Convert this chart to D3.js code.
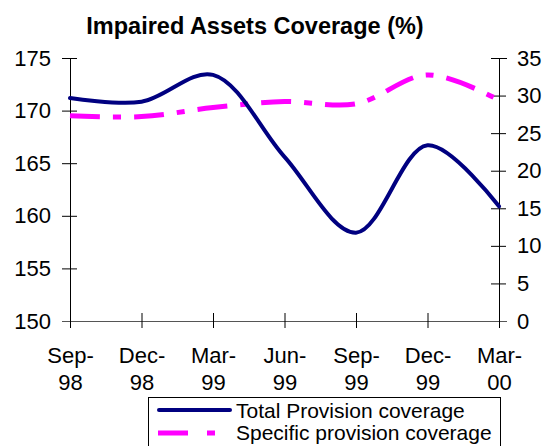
<!DOCTYPE html>
<html><head><meta charset="utf-8">
<script src="https://cdn.jsdelivr.net/npm/d3@7"></script>
<style>body{margin:0;background:#fff;}svg{display:block;font-family:"Liberation Sans",Arial,sans-serif;}</style>
</head><body>
<svg id="c" width="544" height="446"></svg>
<script>
const categories = ["Sep-98","Dec-98","Mar-99","Jun-99","Sep-99","Dec-99","Mar-00"];
const totalProvision = [171.2, 170.85, 173.4, 165.6, 158.4, 166.7, 160.9];
const specificProvision = [27.3, 27.2, 28.4, 29.2, 28.9, 32.75, 29.4];
const leftTicks = [150,155,160,165,170,175];
const rightTicks = [0,5,10,15,20,25,30,35];
const seriesNames = ["Total Provision coverage","Specific provision coverage"];
const title = "Impaired Assets Coverage (%)";

const svg = d3.select("#c");
const L = 70, R = 499, T = 58, B = 321;
const x = d3.scalePoint().domain(categories).range([L, R]);
const yL = d3.scaleLinear().domain([150,175]).range([B, T]);
const yR = d3.scaleLinear().domain([0,35]).range([B, T]);

svg.append("text").attr("x",255).attr("y",34).attr("text-anchor","middle")
  .attr("font-size",23.5).attr("font-weight","bold").text(title);

// left axis
const gl = svg.append("g").attr("transform",`translate(${L},0)`)
  .call(d3.axisLeft(yL).tickValues(leftTicks).tickSize(8).tickFormat(d3.format("d")));
gl.selectAll(".tick line").attr("x2",-8).attr("x1",7);
// right axis
const gr = svg.append("g").attr("transform",`translate(${R},0)`)
  .call(d3.axisRight(yR).tickValues(rightTicks).tickSize(8).tickFormat(d3.format("d")));
gr.selectAll(".tick line").attr("x1",-8).attr("x2",7);
// x axis
const gx = svg.append("g").attr("transform",`translate(0,${B})`)
  .call(d3.axisBottom(x).tickSize(7));
gx.selectAll(".tick line").attr("y1",-8).attr("y2",7);
gx.select(".domain").attr("d",`M${L-8},0.5H${R+8}`);
[gl,gr,gx].forEach(g=>{
  g.selectAll("text").attr("font-size",22).attr("fill","#000").attr("font-family","Liberation Sans, Arial, sans-serif");
  g.selectAll("line,.domain").attr("stroke","#000");
});
gx.select(".domain").attr("stroke","#555");
gl.selectAll(".tick text").attr("x",-19);
gr.selectAll(".tick text").attr("x",18);
gx.selectAll(".tick text").text(null).each(function(d){
  const parts = d.split("-");
  const t = d3.select(this).attr("y",null).attr("dy",null);
  t.append("tspan").attr("x",0).attr("y",42).text(parts[0]+"-");
  t.append("tspan").attr("x",0).attr("y",69).text(parts[1]);
});

const curve = d3.curveCatmullRom.alpha(0.5);
const lineL = d3.line().x((d,i)=>x(categories[i])).y(d=>yL(d)).curve(curve);
const lineR = d3.line().x((d,i)=>x(categories[i])).y(d=>yR(d)).curve(curve);

svg.append("path").attr("d",lineR(specificProvision)).attr("fill","none")
  .attr("stroke","#ff00ff").attr("stroke-width",5).attr("stroke-dasharray","30,13,8,13");
svg.append("path").attr("d",lineL(totalProvision)).attr("fill","none")
  .attr("stroke","#000080").attr("stroke-width",4).attr("stroke-linecap","round");

// legend
const lg = svg.append("g");
lg.append("rect").attr("x",148.5).attr("y",397.5).attr("width",352).attr("height",70)
  .attr("fill","#fff").attr("stroke","#000");
lg.append("line").attr("x1",159).attr("x2",230).attr("y1",410).attr("y2",410)
  .attr("stroke","#000080").attr("stroke-width",4).attr("stroke-linecap","round");
lg.append("line").attr("x1",158).attr("x2",231).attr("y1",433).attr("y2",433)
  .attr("stroke","#ff00ff").attr("stroke-width",5).attr("stroke-dasharray","30,19,8,30");
lg.selectAll("text.lt").data(seriesNames).join("text").attr("class","lt")
  .attr("x",236).attr("y",(d,i)=>418+i*22).attr("font-size",21).text(d=>d);
</script>
</body></html>
